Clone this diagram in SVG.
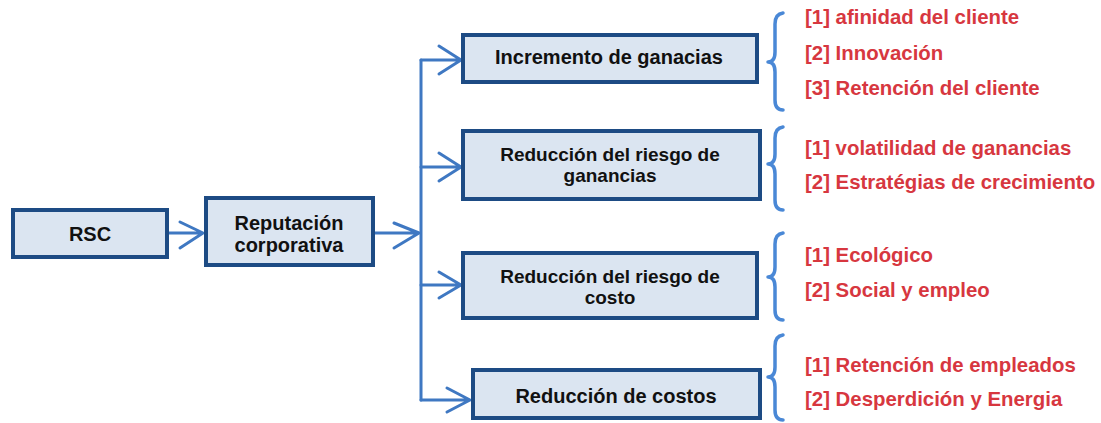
<svg xmlns="http://www.w3.org/2000/svg" width="1101" height="423" viewBox="0 0 1101 423">
<style>
.box{fill:#dbe5f1;stroke:#1d4b84;stroke-width:4}
.lbl{font-family:"Liberation Sans",Arial,sans-serif;font-weight:bold;font-size:20px;fill:#111;text-anchor:middle}
.lbl19{font-size:19px}
.conn{fill:none;stroke:#3f78c2;stroke-width:3;stroke-linecap:round;stroke-linejoin:round}
.brace{fill:none;stroke:#4a88d6;stroke-width:3.5;stroke-linecap:round;stroke-linejoin:round}
.red{font-family:"Liberation Sans",Arial,sans-serif;font-weight:bold;font-size:20.4px;fill:#d7373f}
</style>
<rect width="1101" height="423" fill="#ffffff"/>
<g id="connectors">
<path class="conn" d="M168 233 H203 M180 222 L203 233 L180 248"/>
<path class="conn" d="M374 233 H419 M394 223 L419 233 L394 248"/>
<path class="conn" d="M421 60 V400"/>
<path class="conn" d="M421 60 H461 M439 46 L461 60 L439 74"/>
<path class="conn" d="M421 167 H461 M439 153 L461 167 L439 181"/>
<path class="conn" d="M421 285 H461 M439 272 L461 285 L439 298"/>
<path class="conn" d="M421 400 H470 M447 388 L470 400 L447 412"/>
</g>
<g id="node-rsc">
<rect class="box" x="13" y="210" width="154" height="47"/>
<text class="lbl" x="90" y="241">RSC</text>
</g>
<g id="node-reputacion">
<rect class="box" x="206" y="198" width="167" height="67"/>
<text class="lbl" x="289" y="230">Reputación</text>
<text class="lbl" x="289" y="252">corporativa</text>
</g>
<g id="node-incremento">
<rect class="box" x="463" y="35" width="294" height="47"/>
<text class="lbl" x="609" y="64">Incremento de ganacias</text>
</g>
<g id="node-riesgo-ganancias">
<rect class="box" x="463" y="131" width="297" height="68"/>
<text class="lbl lbl19" x="610" y="161">Reducción del riesgo de</text>
<text class="lbl lbl19" x="610" y="182">ganancias</text>
</g>
<g id="node-riesgo-costo">
<rect class="box" x="463" y="253" width="294" height="65"/>
<text class="lbl lbl19" x="610" y="283">Reducción del riesgo de</text>
<text class="lbl lbl19" x="610" y="304">costo</text>
</g>
<g id="node-costos">
<rect class="box" x="473" y="370" width="287" height="48"/>
<text class="lbl" x="616" y="403">Reducción de costos</text>
</g>
<g id="braces">
<path class="brace" d="M783 13 Q775 14 775 24 V52 Q775 62 768 62 Q775 62 775 72 V100 Q775 110 783 110"/>
<path class="brace" d="M783 127 Q775 128 775 138 V154 Q775 164 768 164 Q775 164 775 174 V200 Q775 210 783 210"/>
<path class="brace" d="M783 233 Q775 234 775 244 V267 Q775 277 768 277 Q775 277 775 287 V310 Q775 320 783 320"/>
<path class="brace" d="M783 335 Q775 336 775 346 V367 Q775 377 768 377 Q775 377 775 387 V410 Q775 420 783 420"/>
</g>
<g id="items">
<text class="red" x="805" y="24">[1] afinidad del cliente</text>
<text class="red" x="805" y="60">[2] Innovación</text>
<text class="red" x="805" y="95">[3] Retención del cliente</text>
<text class="red" x="805" y="155">[1] volatilidad de ganancias</text>
<text class="red" x="805" y="189">[2] Estratégias de crecimiento</text>
<text class="red" x="805" y="262">[1] Ecológico</text>
<text class="red" x="805" y="297">[2] Social y empleo</text>
<text class="red" x="805" y="372">[1] Retención de empleados</text>
<text class="red" x="805" y="406">[2] Desperdición y Energia</text>
</g>
</svg>
